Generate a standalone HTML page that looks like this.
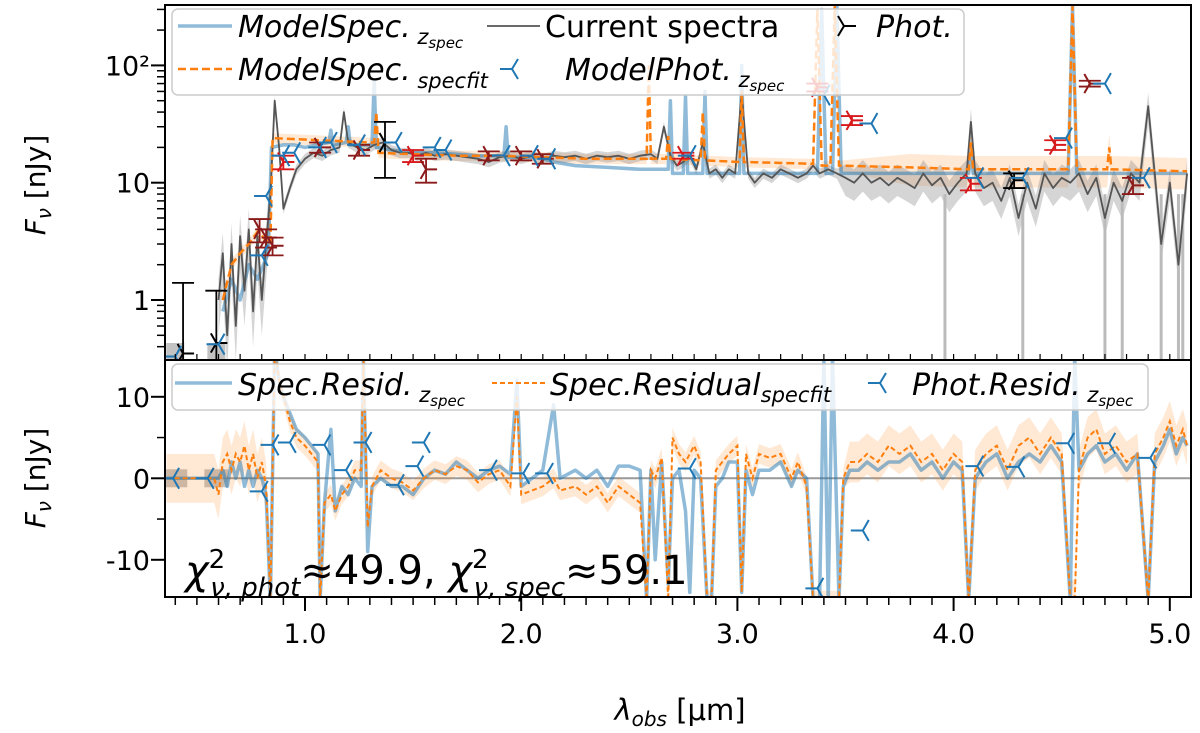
<!DOCTYPE html>
<html><head><meta charset="utf-8">
<style>
html,body{margin:0;padding:0;background:#fff;}
svg{display:block;font-family:"DejaVu Sans","Liberation Sans",sans-serif;}
</style></head>
<body>
<svg id="chart" width="1200" height="733" viewBox="0 0 1200 733" xmlns="http://www.w3.org/2000/svg">
<defs>
<clipPath id="clipTop"><rect x="165" y="5" width="1026" height="355"/></clipPath>
<clipPath id="clipBot"><rect x="165" y="360" width="1026" height="237"/></clipPath>
</defs>
<rect x="0" y="0" width="1200" height="733" fill="#fff"/>
<g id="topPlot" clip-path="url(#clipTop)"></g>
<g id="botPlot" clip-path="url(#clipBot)"></g>
<g id="axes"></g>
</svg>
<script>
// ---------- DATA ----------
const dataLam = [0.60,0.62,0.64,0.66,0.68,0.70,0.72,0.74,0.76,0.78,0.80,0.82,0.84,0.86,0.88,0.90,0.93,0.96,1.00,1.04,1.08,1.12,1.16,1.18,1.20,1.24,1.28,1.32,1.36,1.40,1.44,1.48,1.52,1.56,1.60,1.65,1.70,1.75,1.80,1.85,1.90,1.95,2.00,2.05,2.10,2.15,2.20,2.25,2.30,2.35,2.40,2.45,2.50,2.55,2.60,2.63,2.66,2.69,2.72,2.75,2.78,2.81,2.84,2.87,2.90,2.93,2.96,2.99,3.02,3.05,3.08,3.12,3.16,3.20,3.24,3.28,3.32,3.35,3.38,3.42,3.46,3.50,3.54,3.58,3.62,3.66,3.70,3.74,3.78,3.82,3.86,3.90,3.94,3.98,4.02,4.06,4.08,4.10,4.14,4.18,4.22,4.26,4.30,4.34,4.38,4.42,4.46,4.50,4.54,4.58,4.62,4.66,4.70,4.74,4.78,4.82,4.86,4.90,4.93,4.96,5.00,5.04,5.08];
const dataFlux = [1.0,2.5,0.5,3.0,0.6,3.5,1.2,4.0,0.8,3.5,1.0,3.0,8,50,20,6,9,13,16,18,17,19,20,40,22,20,19,21,22,19,18,18,17,18,17,17.5,17,16.5,16,15,16.5,17,16,17,16,17,16.5,17,16,17,16.5,17,16,17,17.5,16,30,17,14,15,17,13,22,12,13,11,13,12,60,12,10,12,11,13,12,11,12,14,12,13,12,11,10,12,10,11,9.5,11,10,9,12,9.5,11,8,10,12,33,12,9,10,7,11,5,10,6,12,9,11,10,12,8,11,5,10,7,12,10,45,12,3,10,2,12];
const dropLam = [4.70,4.78,4.96,5.04,5.06,3.96,4.32];

const zLam = [0.62,0.66,0.70,0.74,0.78,0.83,0.845,0.90,0.95,1.00,1.05,1.11,1.12,1.13,1.19,1.20,1.21,1.31,1.32,1.33,1.40,1.50,1.60,1.70,1.80,1.92,1.93,1.94,2.05,2.10,2.15,2.25,2.40,2.55,2.68,2.69,2.70,2.75,2.76,2.77,2.84,2.85,2.86,3.01,3.02,3.03,3.37,3.39,3.41,3.44,3.46,3.48,4.07,4.08,4.09,4.53,4.55,4.57,5.08];
const zFlux = [0.8,1.5,1.0,2.0,1.5,2.5,20,21,21,20,21,22,28,21,22,30,21,21,75,20,19,18,18,17.5,17,17,30,16.5,16.5,16,15,14,13.5,13,13,50,12,12,55,12,12,60,12,12,100,12,12,300,12,12,320,12,12,18,12,12,320,12,12];

const fitLam = [0.62,0.66,0.70,0.74,0.78,0.84,0.85,1.30,1.32,1.33,1.34,1.50,1.70,1.90,2.10,2.30,2.58,2.59,2.60,2.67,2.68,2.69,2.83,2.84,2.85,3.01,3.02,3.03,3.35,3.37,3.39,3.43,3.45,3.47,3.80,4.07,4.08,4.09,4.53,4.55,4.57,4.71,4.72,4.73,5.08];
const fitFlux = [1.0,2.0,2.5,3.0,3.8,3.0,24,22,22,40,18,17.5,17,17,16.5,16,16,100,16,16,25,16,15.5,40,15.5,15,60,15,14.5,300,14,14,320,14,13.5,13,22,13,13,320,13,13,20,13,12.5];

const photLam = [0.436,0.59,0.79,0.82,0.85,0.90,1.07,1.25,1.37,1.50,1.56,1.85,2.00,2.10,2.75,3.37,3.53,4.08,4.28,4.47,4.63,4.83];
const photFlux = [0.35,0.43,4.0,3.4,2.9,15,20,19,22,17,13,17,17,16,17,65,34,9.8,10.5,21,70,9.5];
const photErr = [1.05,0.77,0.9,0.6,0.5,2,2,2,11,2,3,1.5,1.5,1.5,1,5,3,1.2,1.5,2,4,1.5];
const photColor = ["#000","#000","#8b1a1a","#8b1a1a","#8b1a1a","#d7191c","#8b1a1a","#8b1a1a","#000","#d7191c","#8b1a1a","#8b1a1a","#8b1a1a","#8b1a1a","#d7191c","#d7191c","#d7191c","#d7191c","#000","#d7191c","#8b1a1a","#8b1a1a"];

const mphotLam = [0.40,0.60,0.82,0.80,0.90,0.95,1.07,1.12,1.25,1.42,1.60,1.65,1.92,2.05,2.13,2.78,3.40,3.62,4.11,4.32,4.52,4.70,4.88];
const mphotFlux = [0.33,0.42,7.7,2.4,17,18,20,22,21,22,20,19,17,17,16,17,56,32,11,11,24,70,11];

const resLam = [0.36,0.58,0.60,0.62,0.64,0.66,0.68,0.70,0.72,0.74,0.76,0.78,0.80,0.82,0.84,0.86,0.88,0.90,0.93,0.96,1.00,1.03,1.06,1.07,1.09,1.12,1.14,1.17,1.20,1.23,1.26,1.27,1.29,1.31,1.35,1.40,1.45,1.50,1.55,1.60,1.65,1.70,1.75,1.80,1.85,1.90,1.95,1.98,2.00,2.05,2.10,2.15,2.18,2.25,2.30,2.35,2.40,2.45,2.50,2.55,2.58,2.60,2.62,2.65,2.68,2.70,2.73,2.76,2.78,2.80,2.83,2.86,2.88,2.90,2.93,2.96,3.00,3.02,3.04,3.07,3.10,3.15,3.20,3.25,3.28,3.32,3.35,3.38,3.40,3.42,3.44,3.47,3.49,3.52,3.56,3.60,3.65,3.70,3.75,3.80,3.85,3.90,3.95,4.00,4.04,4.07,4.10,4.15,4.20,4.25,4.30,4.35,4.40,4.45,4.50,4.54,4.56,4.58,4.62,4.66,4.70,4.75,4.80,4.85,4.90,4.93,4.97,5.00,5.03,5.06,5.08];
const resZ = [0,0,0,1,-1,2,0,2,-1,1,-1,1,0,-2,-15,16,12,10,8,6,5,4,3,-15,-3,6,-4,-1,-2,0,-1,15,-9,-1,0,-1,-1,-2,0,1,0.5,2,1,0,1,1.5,0.5,12,-1,0,1,9,0,1,0,1,-1,1.5,1.5,1,-15,1,-10,2,-13,0,1,-4,-14,1,0,-15,-15,-1,0,2,2,-14,1,-2,1,1,2,-1,1,0,-15,-15,15,-15,15,-15,-1,1,1,2,1,2,2,3,1,2,0,2,1,-15,0,2,3,0,2,3,2,4,2,-15,15,1,3,4,2,3,1,3,-15,2,4,6,3,5,4];
const resFit = [0,0,-2,2,3,1,3,2,4,1,3,0,2,-1,-15,16,12,10,7,5,4,3,2,-15,-3,-2,-4,-2,-1,1,1,15,-6,-1,1,0,-0.5,-1.5,0,1,0.5,1.5,1,-0.5,0.5,1,-1,10,-2,-1.5,-1,0,-1.5,-1,-2,-1,-3,-1,-2,-3,-15,1,0,2.5,-15,5,3,2,3,4,2,-15,-15,1,2,3,4,-14,3,0,3,2.5,3,0,2,-1,-15,-15,-15,-15,-15,-15,0,2,2,3,2,4,3,4,2,3,1,3,2,-15,1,3,4,1,4,5,3,5,3,-15,-15,1,5,6,3,4,2,3,-15,3,5,7,4,6,4];

const mresLam = [0.39,0.55,0.80,0.85,0.93,1.09,1.28,1.43,1.52,1.55,1.19,1.86,2.01,2.12,2.78,3.58,3.37,4.11,4.30,4.53,4.72,4.91];
const mresVal = [0,0,-1.6,4.1,4.4,4.1,4.4,-0.8,1.5,4.4,1.0,1.0,0.6,0.6,1.2,-6.4,-13.5,1.5,1.4,4.3,4.3,2.5];

const xTicks = [1.0,2.0,3.0,4.0,5.0];
const xTickLabels = ["1.0","2.0","3.0","4.0","5.0"];
const yTopTicks = [1,10,100];
const yTopLabels = ["1","10","10²"];
const yBotTicks = [-10,0,10];
const yBotLabels = ["-10","0","10"];

// ---------- SCALES ----------
const X = l => 305 + (l - 1) * 216.2;
const YT = v => 300 - Math.log10(Math.max(v, 0.05)) * 117.3;
const YB = v => 478.3 - v * 8.15;
const NS = "http://www.w3.org/2000/svg";
function mk(tag, attrs, parent){const e=document.createElementNS(NS,tag);for(const k in attrs)e.setAttribute(k,attrs[k]);parent.appendChild(e);return e;}
const topG = document.getElementById('topPlot');
const botG = document.getElementById('botPlot');
const axes = document.getElementById('axes');
function pathOf(xs, ys, fx, fy){return xs.map((l,i)=>(i?'L':'M')+fx(l).toFixed(1)+','+fy(ys[i]).toFixed(1)).join('');}
function bandOf(xs, lo, hi, fx, fy){let d=xs.map((l,i)=>(i?'L':'M')+fx(l).toFixed(1)+','+fy(hi[i]).toFixed(1)).join('');for(let i=xs.length-1;i>=0;i--)d+='L'+fx(xs[i]).toFixed(1)+','+fy(lo[i]).toFixed(1);return d+'Z';}
function triLeft(g,cx,cy,col,s){const d=`M${cx},${cy}L${cx-s},${cy}M${cx},${cy}L${cx+s*0.5},${cy-s*0.87}M${cx},${cy}L${cx+s*0.5},${cy+s*0.87}`;return mk('path',{d:d,stroke:col,'stroke-width':2,fill:'none'},g);}
function triRight(g,cx,cy,col,s){const d=`M${cx},${cy}L${cx+s},${cy}M${cx},${cy}L${cx-s*0.5},${cy-s*0.87}M${cx},${cy}L${cx-s*0.5},${cy+s*0.87}`;return mk('path',{d:d,stroke:col,'stroke-width':2,fill:'none'},g);}

// ---------- TOP PANEL ----------
const fitErrFrac = fitLam.map(l => l < 3.5 ? 0.1 : 0.3);
let e;
e = mk('path',{d:bandOf(fitLam, fitFlux.map((v,i)=>v*(1-fitErrFrac[i])), fitFlux.map((v,i)=>v*(1+fitErrFrac[i])), X, YT), fill:'#ff7f0e','fill-opacity':0.18,stroke:'none'}, topG);


const dataErrFrac = dataLam.map(l => l < 0.85 ? 0.5 : (l < 3.5 ? 0.1 : 0.3));
e = mk('path',{d:bandOf(dataLam, dataFlux.map((v,i)=>v*(1-dataErrFrac[i])), dataFlux.map((v,i)=>v*(1+dataErrFrac[i])), X, YT), fill:'#888','fill-opacity':0.35,stroke:'none'}, topG);


dropLam.forEach(l=>{
  const ln = mk('line',{x1:X(l),x2:X(l),y1:YT(8),y2:360,stroke:'#bbb','stroke-width':3}, topG);
  
  
});
e = mk('path',{d:pathOf(zLam,zFlux,X,YT),fill:'none',stroke:'#1f77b4','stroke-opacity':0.5,'stroke-width':3.5,'stroke-linejoin':'round'}, topG);


e = mk('path',{d:pathOf(dataLam,dataFlux,X,YT),fill:'none',stroke:'#555','stroke-width':1.8,'stroke-linejoin':'round'}, topG);


e = mk('path',{d:pathOf(fitLam,fitFlux,X,YT),fill:'none',stroke:'#ff7f0e','stroke-width':2.5,'stroke-dasharray':'8,4'}, topG);


[0.40,0.59].forEach(l=>{
  const r = mk('rect',{x:X(l)-9,y:343,width:18,height:17,fill:'#aaa','fill-opacity':0.7}, topG);
  
  
});
photLam.forEach((l,i)=>{
  const g = mk('g',{}, topG);
  
  
  const c = photColor[i], cx = X(l);
  const y1 = YT(photFlux[i]+photErr[i]), y2 = YT(Math.max(photFlux[i]-photErr[i],0.05));
  mk('line',{x1:cx,x2:cx,y1:y1,y2:y2,stroke:c,'stroke-width':1.8}, g);
  mk('line',{x1:cx-11,x2:cx+11,y1:y1,y2:y1,stroke:c,'stroke-width':1.8}, g);
  mk('line',{x1:cx-11,x2:cx+11,y1:y2,y2:y2,stroke:c,'stroke-width':1.8}, g);
  triRight(g,cx,YT(photFlux[i]),c,11);
});
mphotLam.forEach((l,i)=>{
  const m = triLeft(topG, X(l), YT(mphotFlux[i]), '#1f77b4', 12);
  
  
});

// ---------- BOTTOM PANEL ----------
e = mk('line',{x1:165,x2:1191,y1:YB(0),y2:YB(0),stroke:'#999','stroke-width':2}, botG);


[0.40,0.59].forEach(l=>{
  const r = mk('rect',{x:X(l)-12,y:YB(0)-9,width:24,height:18,fill:'#aaa','fill-opacity':0.7}, botG);
  
  
});
const resErr = resLam.map(l => l < 0.85 ? 3 : (l < 3.5 ? 1.2 : 2.5));
e = mk('path',{d:bandOf(resLam, resFit.map((v,i)=>v-resErr[i]), resFit.map((v,i)=>v+resErr[i]), X, YB), fill:'#ff7f0e','fill-opacity':0.18,stroke:'none'}, botG);


e = mk('path',{d:pathOf(resLam,resZ,X,YB),fill:'none',stroke:'#1f77b4','stroke-opacity':0.5,'stroke-width':3.5,'stroke-linejoin':'round'}, botG);


e = mk('path',{d:pathOf(resLam,resFit,X,YB),fill:'none',stroke:'#ff7f0e','stroke-width':2,'stroke-dasharray':'5,3'}, botG);


mresLam.forEach((l,i)=>{
  const m = triLeft(botG, X(l), YB(mresVal[i]), '#1f77b4', 12);
  
  
});

// ---------- AXES ----------
e = mk('rect',{x:165,y:5,width:1026,height:355,fill:'none',stroke:'#000','stroke-width':2}, axes);


e = mk('rect',{x:165,y:360,width:1026,height:237,fill:'none',stroke:'#000','stroke-width':2}, axes);


for(let k=4;k<=50;k++){
  const l=k/10, x=X(l);
  if(x<165||x>1191) continue;
  const major = (k%10===0);
  mk('line',{x1:x,x2:x,y1:597,y2:597+(major?14:8),stroke:'#000','stroke-width':major?2:1.5}, axes);
  mk('line',{x1:x,x2:x,y1:360,y2:354,stroke:'#000','stroke-width':1.2}, axes);
}
xTicks.forEach((t,i)=>{
  const tx = mk('text',{x:X(t),y:643,'font-size':27,'text-anchor':'middle',fill:'#000'}, axes);
  tx.textContent = xTickLabels[i];
  
  
});
for(let d=-1; d<=2; d++){
  for(let m=1;m<=9;m++){
    const v=m*Math.pow(10,d), y=YT(v);
    if(y<5||y>360) continue;
    const major=(m===1);
    mk('line',{x1:165,x2:165-(major?14:8),y1:y,y2:y,stroke:'#000','stroke-width':major?2:1.5}, axes);
  }
}
yTopTicks.forEach((t,i)=>{
  const tx = mk('text',{x:150,y:YT(t)+10,'font-size':27,'text-anchor':'end',fill:'#000'}, axes);
  tx.textContent = yTopLabels[i];
  
  
});
[-10,-5,0,5,10].forEach(v=>{
  const major = (v%10===0);
  mk('line',{x1:165,x2:165-(major?14:8),y1:YB(v),y2:YB(v),stroke:'#000','stroke-width':major?2:1.5}, axes);
});
yBotTicks.forEach((t,i)=>{
  const tx = mk('text',{x:150,y:YB(t)+10,'font-size':27,'text-anchor':'end',fill:'#000'}, axes);
  tx.textContent = yBotLabels[i];
  
  
});
</script>
<script>
(function(){
const NS="http://www.w3.org/2000/svg";
const svg=document.getElementById('chart');
function add(html){const g=document.createElementNS(NS,'g');g.innerHTML=html;svg.appendChild(g);return g;}
add(`
<text transform="translate(45,185) rotate(-90)" font-size="28" text-anchor="middle"><tspan font-style="italic">F</tspan><tspan font-style="italic" font-size="20" dy="6">ν</tspan><tspan dy="-6"> [nJy]</tspan></text>
<text transform="translate(45,478) rotate(-90)" font-size="28" text-anchor="middle"><tspan font-style="italic">F</tspan><tspan font-style="italic" font-size="20" dy="6">ν</tspan><tspan dy="-6"> [nJy]</tspan></text>
<text x="680" y="720" font-size="29" text-anchor="middle"><tspan font-style="italic">λ</tspan><tspan font-style="italic" font-size="20" dy="6">obs</tspan><tspan dy="-6"> [μm]</tspan></text>
<text x="185" y="584" font-size="40"><tspan font-style="italic">χ</tspan><tspan font-size="26" dy="-16">2</tspan><tspan font-style="italic" font-size="26" dx="-15" dy="28">ν, phot</tspan><tspan dy="-12">≈49.9, </tspan><tspan font-style="italic">χ</tspan><tspan font-size="26" dy="-16">2</tspan><tspan font-style="italic" font-size="26" dx="-15" dy="28">ν, spec</tspan><tspan dy="-12">≈59.1</tspan></text>
<g>
<rect x="172" y="9" width="792" height="86" rx="6" fill="#fff" fill-opacity="0.8" stroke="#ccc" stroke-width="1.5"/>
<line x1="178" y1="26" x2="232" y2="26" stroke="#1f77b4" stroke-opacity="0.5" stroke-width="3.5"/>
<text x="238" y="37" font-size="30" font-style="italic">ModelSpec.<tspan font-size="21" dy="7"> z</tspan><tspan font-size="15" dy="4">spec</tspan></text>
<line x1="178" y1="69" x2="232" y2="69" stroke="#ff7f0e" stroke-width="2.5" stroke-dasharray="8,4"/>
<text x="238" y="80" font-size="30" font-style="italic">ModelSpec.<tspan font-size="21" dy="8"> specfit</tspan></text>
<line x1="487" y1="26" x2="540" y2="26" stroke="#555" stroke-width="1.8"/>
<text x="545" y="37" font-size="30">Current spectra</text>
<path d="M844,26L856,26M844,26L838,16M844,26L838,36" stroke="#000" stroke-width="2" fill="none"/>
<text x="876" y="37" font-size="30" font-style="italic">Phot.</text>
<path d="M512,69L500,69M512,69L518,59M512,69L518,79" stroke="#1f77b4" stroke-width="2" fill="none"/>
<text x="565" y="80" font-size="30" font-style="italic">ModelPhot.<tspan font-size="21" dy="7"> z</tspan><tspan font-size="15" dy="4">spec</tspan></text>
</g>
<g>
<rect x="172" y="364" width="976" height="46" rx="6" fill="#fff" fill-opacity="0.8" stroke="#ccc" stroke-width="1.5"/>
<line x1="175" y1="383" x2="232" y2="383" stroke="#1f77b4" stroke-opacity="0.5" stroke-width="3.5"/>
<text x="238" y="395" font-size="30" font-style="italic">Spec.Resid.<tspan font-size="21" dy="7"> z</tspan><tspan font-size="15" dy="4">spec</tspan></text>
<line x1="492" y1="383" x2="545" y2="383" stroke="#ff7f0e" stroke-width="2" stroke-dasharray="5,3"/>
<text x="550" y="395" font-size="30" font-style="italic">Spec.Residual<tspan font-size="21" dy="7">specfit</tspan></text>
<path d="M880,383L868,383M880,383L886,373M880,383L886,393" stroke="#1f77b4" stroke-width="2" fill="none"/>
<text x="912" y="395" font-size="30" font-style="italic">Phot.Resid.<tspan font-size="21" dy="7"> z</tspan><tspan font-size="15" dy="4">spec</tspan></text>
</g>`);
})();
</script>
</body></html>
